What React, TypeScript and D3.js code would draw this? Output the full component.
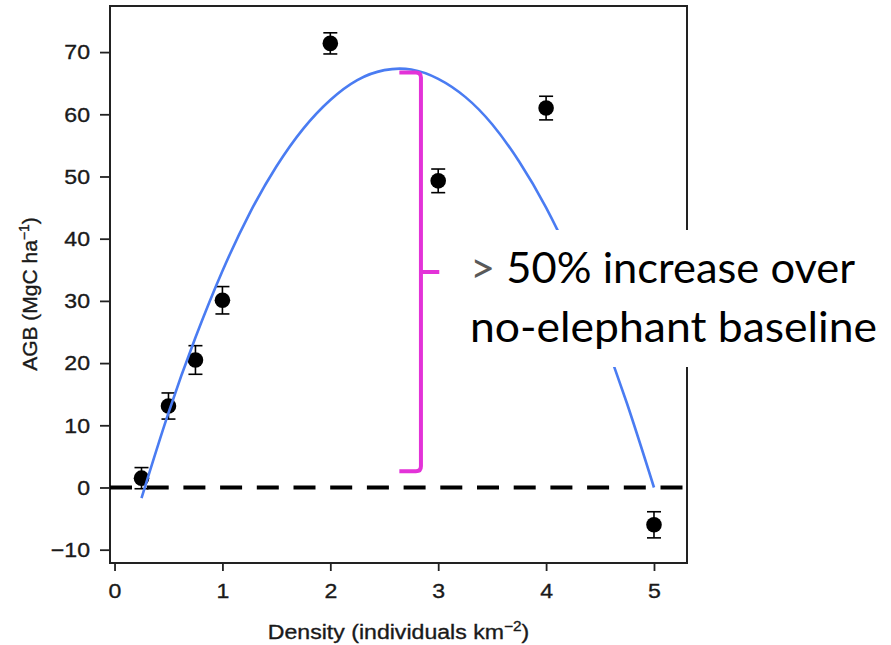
import * as d3 from "d3";
import { useRef, useEffect } from "react";

// elephant density vs above-ground biomass
const density = [0.25, 0.5, 0.75, 1, 2, 3, 4, 5];
const agb = [1.5, 13.1, 20.5, 30.1, 71.4, 49.3, 61.0, -6.0];
const agbErr = [1.7, 2.1, 2.3, 2.2, 1.7, 1.9, 1.9, 2.1];

// fitted curve
const fitX = [0.25, 0.5, 0.75, 1, 1.25, 1.5, 1.75, 2, 2.25, 2.5, 2.75, 3, 3.25, 3.5, 3.75, 4, 4.25, 4.5, 4.75, 5];
const fitY = [-1.7, 12.0, 24.1, 34.8, 44.0, 51.6, 57.7, 62.3, 65.5, 67.1, 67.2, 65.7, 62.8, 58.4, 52.4, 45.0, 36.0, 25.5, 13.5, 0];

const xTicks = [0, 1, 2, 3, 4, 5];
const yTicks = [-10, 0, 10, 20, 30, 40, 50, 60, 70];

const noteLines = ["50% increase over", "no-elephant baseline"];

const axisFont = "'Liberation Sans', Arial, sans-serif";

export default function App({
  width = 891,
  height = 645,
  marginTop = 6,
  marginRight = 204,
  marginBottom = 82,
  marginLeft = 110
}) {
  const gx = useRef(null);
  const gy = useRef(null);
  const x = d3.scaleLinear([-0.042, 5.306], [marginLeft, width - marginRight]);
  const y = d3.scaleLinear([-12.14, 77.41], [height - marginBottom, marginTop]);
  const line = d3.line((d, i) => x(fitX[i]), (d) => y(d)).curve(d3.curveNatural);

  useEffect(() => {
    const g = d3.select(gx.current)
      .call(d3.axisBottom(x).tickValues(xTicks).tickSize(8).tickPadding(12).tickFormat(d3.format("d")));
    g.select(".domain").remove();
    g.selectAll("line").attr("stroke", "#222").attr("stroke-width", 1.8);
    g.selectAll("text").style("font-size", "21px").attr("fill", "#1a1a1a")
      .attr("stroke", "#1a1a1a").attr("stroke-width", 0.35)
      .attr("transform", "scale(1.1,1)")
      .style("font-family", axisFont);
  }, []);

  useEffect(() => {
    const g = d3.select(gy.current)
      .call(d3.axisLeft(y).tickValues(yTicks).tickSize(10).tickPadding(8.2).tickFormat(d3.format("d")));
    g.select(".domain").remove();
    g.selectAll("line").attr("stroke", "#222").attr("stroke-width", 1.8);
    g.selectAll("text").style("font-size", "21px").attr("fill", "#1a1a1a")
      .attr("stroke", "#1a1a1a").attr("stroke-width", 0.35)
      .attr("transform", "scale(1.1,1)")
      .style("font-family", axisFont);
  }, []);

  // brace geometry
  const bx = x(2.84), hx = x(2.64), nx = x(3.01);
  const top = y(66.7), bot = y(2.6), mid = (top + bot) / 2;
  const r = 5;
  const brace = `M${hx},${top} H${bx - r} Q${bx},${top} ${bx},${top + r} V${bot - r} Q${bx},${bot} ${bx - r},${bot} H${hx} M${bx},${mid} H${nx}`;

  return (
    <svg width={width} height={height} style={{ position: "absolute", left: 0, top: 0, background: "#fff" }}
      fontFamily={axisFont}>
      <rect x={marginLeft} y={marginTop} width={width - marginLeft - marginRight}
        height={height - marginTop - marginBottom} fill="none" stroke="#222" strokeWidth="2" />
      <g ref={gx} transform={`translate(0,${height - marginBottom})`} />
      <g ref={gy} transform={`translate(${marginLeft},0)`} />

      <line x1={marginLeft} x2={width - marginRight} y1={y(0)} y2={y(0)}
        stroke="#000" strokeWidth="4" strokeDasharray="22 14.7" />

      <g stroke="#000" strokeWidth="1.6">
        {density.map((d, i) => (
          <g key={i}>
            <line x1={x(d)} x2={x(d)} y1={y(agb[i] - agbErr[i])} y2={y(agb[i] + agbErr[i])} />
            <line x1={x(d) - 7} x2={x(d) + 7} y1={y(agb[i] - agbErr[i])} y2={y(agb[i] - agbErr[i])} />
            <line x1={x(d) - 7} x2={x(d) + 7} y1={y(agb[i] + agbErr[i])} y2={y(agb[i] + agbErr[i])} />
          </g>
        ))}
      </g>
      <g fill="#000">
        {density.map((d, i) => (<circle key={i} cx={x(d)} cy={y(agb[i])} r="7.8" />))}
      </g>

      <path fill="none" stroke="#4a7cf2" strokeWidth="2.6" d={line(fitY) ?? ""} />

      <path fill="none" stroke="#e332d8" strokeWidth="4" d={brace} />

      <text transform="rotate(-90)" x={-294} y={37} textAnchor="middle" fontSize="21" fill="#1a1a1a"
        stroke="#1a1a1a" strokeWidth="0.35">
        AGB (MgC ha<tspan fontSize="14" dy="-8">−1</tspan><tspan dy="8">)</tspan>
      </text>
      <g transform={`translate(${(marginLeft + width - marginRight) / 2},639) scale(1.1,1)`}>
        <text textAnchor="middle" fontSize="21" fill="#1a1a1a" stroke="#1a1a1a" strokeWidth="0.35">
          Density (individuals km<tspan fontSize="14" dy="-8">−2</tspan><tspan dy="8">)</tspan>
        </text>
      </g>

      <rect x={458} y={230} width={433} height={137} fill="#fff" />
      <g fontFamily="Lato, 'Open Sans', sans-serif" fontSize="42" fill="#000">
        <text x={470} y={283} textLength={385} lengthAdjust="spacingAndGlyphs">
          <tspan fill="#595959">&gt;</tspan> {noteLines[0]}
        </text>
        <text x={470} y={342} textLength={407} lengthAdjust="spacingAndGlyphs">{noteLines[1]}</text>
      </g>
    </svg>
  );
}
